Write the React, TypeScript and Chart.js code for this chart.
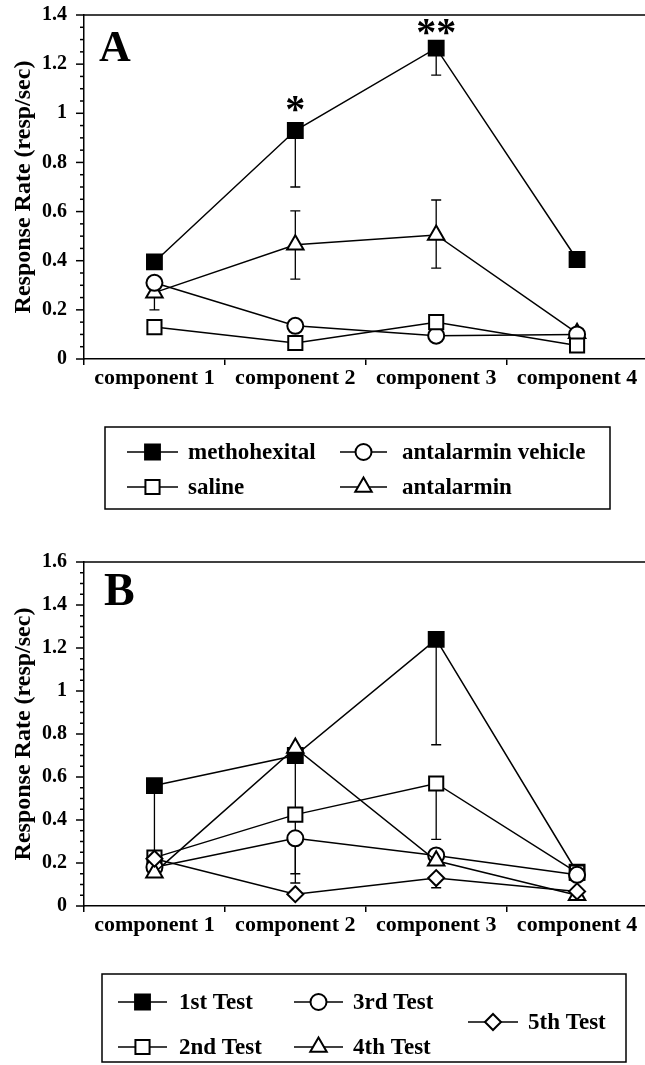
import React, { useEffect, useRef } from 'react';
import { Chart, registerables } from 'chart.js';
Chart.register(...registerables);

// ---------- data ----------
const categories = ['component 1', 'component 2', 'component 3', 'component 4'];

// Panel A
const aMethohexital = [0.395, 0.93, 1.265, 0.405];
const aMethohexitalLow = [null, 0.70, 1.155, null];
const aSaline = [0.13, 0.065, 0.15, 0.055];
const aVehicle = [0.31, 0.135, 0.095, 0.1];
const aAntalarmin = [0.27, 0.465, 0.505, 0.105];
const aAntalarminLow = [0.2, 0.325, 0.37, null];
const aAntalarminHigh = [null, 0.603, 0.647, null];
const aYMax = 1.4;

// Panel B
const bTest1 = [0.56, 0.70, 1.24, 0.157];
const bTest1Low = [0.2, 0.107, 0.75, null];
const bTest2 = [0.225, 0.425, 0.57, 0.155];
const bTest2Low = [null, null, 0.31, null];
const bTest3 = [0.18, 0.315, 0.235, 0.145];
const bTest3Low = [null, 0.15, null, null];
const bTest4 = [0.155, 0.735, 0.21, 0.05];
const bTest5 = [0.22, 0.055, 0.13, 0.068];
const bTest5Low = [null, null, 0.085, null];
const bYMax = 1.6;

const SERIF = '"Liberation Serif", "Times New Roman", serif';
const CANVAS_W = 660;

function drawMarker(ctx: CanvasRenderingContext2D, style: string, x: number, y: number, r: number, filled: boolean) {
  ctx.save();
  ctx.beginPath();
  if (style === 'rect') {
    const s = Math.SQRT1_2 * r;
    ctx.rect(x - s, y - s, 2 * s, 2 * s);
  } else if (style === 'circle') {
    ctx.arc(x, y, r, 0, Math.PI * 2);
  } else if (style === 'triangle') {
    for (let k = 0; k < 3; k++) {
      const a = (k * 2 * Math.PI) / 3;
      const px = x + Math.sin(a) * r;
      const py = y - Math.cos(a) * r;
      if (k === 0) ctx.moveTo(px, py); else ctx.lineTo(px, py);
    }
    ctx.closePath();
  } else if (style === 'rectRot') {
    ctx.moveTo(x - r, y); ctx.lineTo(x, y - r); ctx.lineTo(x + r, y); ctx.lineTo(x, y + r);
    ctx.closePath();
  }
  ctx.fillStyle = filled ? '#000' : '#fff';
  ctx.fill();
  ctx.lineWidth = 2;
  ctx.strokeStyle = '#000';
  ctx.stroke();
  ctx.restore();
}

const decor = {
  id: 'decor',
  beforeDatasetsDraw(chart: any) {
    const ctx = chart.ctx;
    const ys = chart.scales.y;
    ctx.save();
    ctx.strokeStyle = '#000';
    ctx.lineWidth = 1.3;
    chart.data.datasets.forEach((ds: any, i: number) => {
      const meta = chart.getDatasetMeta(i);
      meta.data.forEach((pt: any, j: number) => {
        const v = ds.data[j];
        [ds.errLow ? ds.errLow[j] : null, ds.errHigh ? ds.errHigh[j] : null].forEach((e: any) => {
          if (e == null) return;
          const y0 = ys.getPixelForValue(v);
          const y1 = ys.getPixelForValue(e);
          ctx.beginPath();
          ctx.moveTo(pt.x, y0); ctx.lineTo(pt.x, y1);
          ctx.moveTo(pt.x - 5, y1); ctx.lineTo(pt.x + 5, y1);
          ctx.stroke();
        });
      });
    });
    ctx.restore();
  },
  afterDraw(chart: any, _args: any, opts: any) {
    const ctx = chart.ctx;
    const ca = chart.chartArea;
    const ys = chart.scales.y;
    ctx.save();
    ctx.strokeStyle = '#000';
    ctx.lineWidth = 1.5;
    // top frame line
    ctx.beginPath(); ctx.moveTo(ca.left, ca.top); ctx.lineTo(ca.right, ca.top); ctx.stroke();
    // y ticks (major / minor)
    ys.ticks.forEach((t: any) => {
      const py = ys.getPixelForValue(t.value);
      const major = Math.abs(t.value * 5 - Math.round(t.value * 5)) < 1e-6;
      ctx.beginPath(); ctx.moveTo(ca.left - (major ? 8 : 4), py); ctx.lineTo(ca.left, py); ctx.stroke();
    });
    // panel letter
    ctx.fillStyle = '#000';
    ctx.font = opts.letterFont;
    ctx.textBaseline = 'alphabetic';
    ctx.textAlign = 'left';
    ctx.fillText(opts.letter, opts.letterX, opts.letterY);
    // significance stars
    (opts.stars || []).forEach((s: any) => {
      const pt = chart.getDatasetMeta(s.dataset).data[s.index];
      const py = ys.getPixelForValue(chart.data.datasets[s.dataset].data[s.index]);
      ctx.font = `bold 40px ${SERIF}`;
      ctx.textAlign = 'center';
      ctx.fillText(s.text, pt.x, py - s.offset);
    });
    // legend
    const lg = opts.legend;
    ctx.lineWidth = 1.5;
    ctx.strokeRect(lg.box[0], lg.box[1], lg.box[2], lg.box[3]);
    lg.items.forEach((it: any) => {
      const ds = chart.data.datasets[it.dataset];
      ctx.lineWidth = 1.5;
      ctx.beginPath(); ctx.moveTo(it.x0, it.y); ctx.lineTo(it.x1, it.y); ctx.stroke();
      drawMarker(ctx, ds.pointStyle, (it.x0 + it.x1) / 2, it.y, ds.pointRadius, ds.pointBackgroundColor === '#000');
      ctx.fillStyle = '#000';
      ctx.font = `bold 23px ${SERIF}`;
      ctx.textAlign = 'left';
      ctx.textBaseline = 'middle';
      ctx.fillText(ds.label, it.tx, it.y + 1);
    });
    ctx.restore();
  },
};

function ds(label: string, data: any[], style: string, filled: boolean, r: number, errLow?: any[], errHigh?: any[]) {
  return {
    label,
    data,
    errLow,
    errHigh,
    borderColor: '#000',
    borderWidth: 1.5,
    pointStyle: style,
    pointRadius: r,
    pointHoverRadius: r,
    pointBackgroundColor: filled ? '#000' : '#fff',
    pointBorderColor: '#000',
    pointBorderWidth: 2,
    fill: false,
    tension: 0,
    clip: false,
  };
}

function makeOptions(yMax: number, padTop: number, padBottom: number, decorOpts: any) {
  return {
    responsive: false,
    animation: false,
    events: [],
    layout: { padding: { top: padTop, left: 0, right: 0, bottom: padBottom } },
    plugins: { legend: { display: false }, tooltip: { enabled: false }, decor: decorOpts },
    scales: {
      x: {
        type: 'category',
        offset: true,
        afterFit: (s: any) => { s.height = 30; s.paddingLeft = 0; s.paddingRight = 0; },
        grid: { display: true, drawOnChartArea: false, drawTicks: true, tickLength: 6, offset: true, color: '#000', lineWidth: 1.5 },
        border: { display: true, color: '#000', width: 1.5 },
        ticks: { color: '#000', font: { family: SERIF, size: 22, weight: 'bold' }, padding: 0, autoSkip: false, maxRotation: 0 },
      },
      y: {
        min: 0,
        max: yMax,
        afterFit: (s: any) => { s.width = 84; s.paddingTop = 0; s.paddingBottom = 0; },
        grid: { display: false },
        border: { display: true, color: '#000', width: 1.5 },
        title: { display: true, text: 'Response Rate (resp/sec)', color: '#000', font: { family: SERIF, size: 24, weight: 'bold' }, padding: { top: 9, bottom: 0 } },
        ticks: {
          stepSize: 0.05,
          autoSkip: false,
          padding: 9,
          color: '#000',
          font: { family: SERIF, size: 20, weight: 'bold' },
          callback: (v: any) => {
            const n = Number(v);
            if (Math.abs(n * 5 - Math.round(n * 5)) > 1e-6) return '';
            return String(Math.round(n * 10) / 10);
          },
        },
      },
    },
  };
}

function PanelA() {
  const ref = useRef<HTMLCanvasElement>(null);
  useEffect(() => {
    const chart = new Chart(ref.current as HTMLCanvasElement, {
      type: 'line',
      data: {
        labels: categories,
        datasets: [
          ds('saline', aSaline, 'rect', false, 10),
          ds('antalarmin vehicle', aVehicle, 'circle', false, 8),
          ds('antalarmin', aAntalarmin, 'triangle', false, 9.5, aAntalarminLow, aAntalarminHigh),
          ds('methohexital', aMethohexital, 'rect', true, 10.5, aMethohexitalLow),
        ] as any,
      },
      options: makeOptions(aYMax, 15, 540 - 359 - 30, {
        letter: 'A', letterX: 99, letterY: 61, letterFont: `bold 44px ${SERIF}`,
        stars: [
          { dataset: 3, index: 1, text: '*', offset: 8 },
          { dataset: 3, index: 2, text: '**', offset: 3 },
        ],
        legend: {
          box: [105, 427, 505, 82],
          items: [
            { dataset: 3, x0: 127, x1: 178, tx: 188, y: 452 },
            { dataset: 0, x0: 127, x1: 178, tx: 188, y: 487 },
            { dataset: 1, x0: 340, x1: 387, tx: 402, y: 452 },
            { dataset: 2, x0: 340, x1: 387, tx: 402, y: 487 },
          ],
        },
      }) as any,
      plugins: [decor as any],
    });
    return () => chart.destroy();
  }, []);
  return <canvas ref={ref} width={CANVAS_W} height={540} style={{ display: 'block' }} />;
}

function PanelB() {
  const ref = useRef<HTMLCanvasElement>(null);
  useEffect(() => {
    const chart = new Chart(ref.current as HTMLCanvasElement, {
      type: 'line',
      data: {
        labels: categories,
        datasets: [
          ds('5th Test', bTest5, 'rectRot', false, 8, bTest5Low),
          ds('4th Test', bTest4, 'triangle', false, 9.5),
          ds('3rd Test', bTest3, 'circle', false, 8, bTest3Low),
          ds('2nd Test', bTest2, 'rect', false, 10, bTest2Low),
          ds('1st Test', bTest1, 'rect', true, 10.5, bTest1Low),
        ] as any,
      },
      options: makeOptions(bYMax, 22, 525 - 366 - 30, {
        letter: 'B', letterX: 104, letterY: 65, letterFont: `bold 46px ${SERIF}`,
        stars: [],
        legend: {
          box: [102, 434, 524, 88],
          items: [
            { dataset: 4, x0: 118, x1: 167, tx: 179, y: 462 },
            { dataset: 3, x0: 118, x1: 167, tx: 179, y: 507 },
            { dataset: 2, x0: 294, x1: 343, tx: 353, y: 462 },
            { dataset: 1, x0: 294, x1: 343, tx: 353, y: 507 },
            { dataset: 0, x0: 468, x1: 518, tx: 528, y: 482 },
          ],
        },
      }) as any,
      plugins: [decor as any],
    });
    return () => chart.destroy();
  }, []);
  return <canvas ref={ref} width={CANVAS_W} height={525} style={{ display: 'block' }} />;
}

export default function App() {
  return (
    <div style={{ position: 'absolute', left: 0, top: 0, width: 645, height: 1065, background: '#fff', overflow: 'hidden' }}>
      <PanelA />
      <PanelB />
    </div>
  );
}
